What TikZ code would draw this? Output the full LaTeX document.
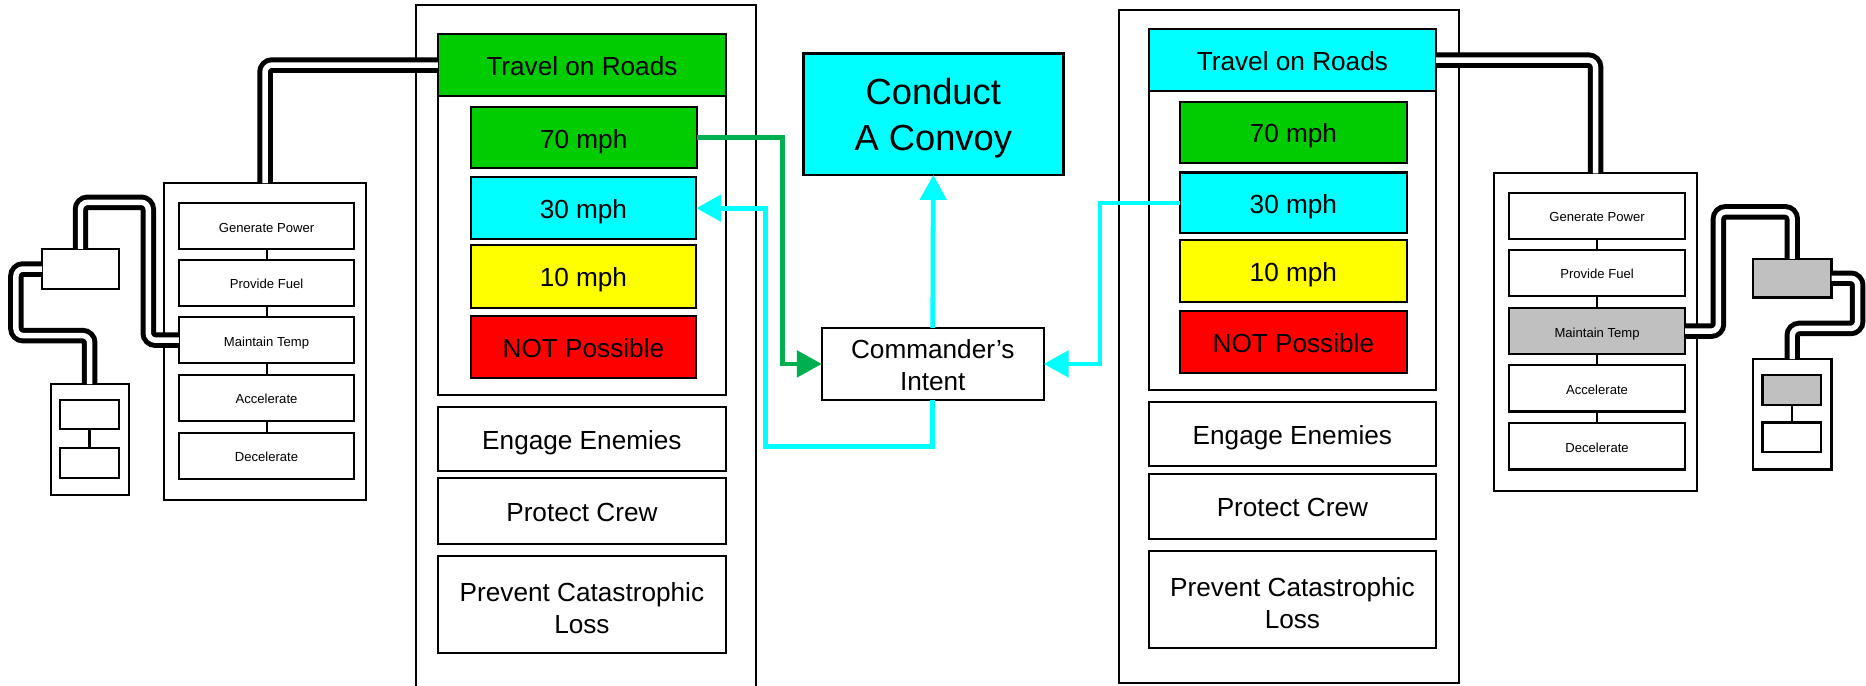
\documentclass[tikz,border=0pt]{standalone}
\usepackage{fontspec}
\setmainfont{Liberation Sans}
\usetikzlibrary{arrows.meta}
\definecolor{boxgreen}{HTML}{00CC00}
\definecolor{linegreen}{HTML}{00B050}
\definecolor{cyanc}{HTML}{00FFFF}
\definecolor{yelc}{HTML}{FFFF00}
\definecolor{redc}{HTML}{FF0000}
\definecolor{grayc}{HTML}{C0C0C0}
\newcommand\mkbox[7]{\node[#1, minimum width={(#5-#3)*1pt}, minimum height={(#6-#4)*1pt}] (#2) at ({(#3+#5)/2},{(#4+#6)/2}) {#7};}
\begin{document}
\begin{tikzpicture}[x=1pt,y=-1pt,
  box/.style={draw, line width=1.8pt, inner sep=0pt, outer sep=0pt, align=center, font=\fontsize{22}{26.5}\selectfont},
  sbox/.style={box, text height=22pt, text depth=4.4pt},
  funcbox/.style={box, font=\fontsize{11}{13}\selectfont, text height=12pt, text depth=2pt},
  outerframe/.style={draw, line width=1.8pt, inner sep=0pt, outer sep=0pt},
  dbl/.style={draw=black, line width=4.2pt, double=white, double distance=4.6pt, rounded corners=6pt},
  conn/.style={line width=1.7pt},
  garrow/.style={draw=linegreen, line width=4pt, -{Triangle[length=21pt,width=22pt]}},
  carrow/.style={draw=cyanc, line width=4pt, -{Triangle[length=21pt,width=22pt]}}]
\fill[white] (0,0) rectangle (1568,576);
\useasboundingbox (0,0) rectangle (1568,576);

% left column
\mkbox{outerframe}{lframe}{349.5}{4.5}{635.5}{640}{}
\mkbox{box}{lcont}{368}{80.7}{610}{332}{}
\mkbox{sbox,fill=boxgreen}{ltravel}{368}{28.6}{610}{80.7}{Travel on Roads}
\mkbox{sbox,fill=boxgreen}{l70}{395.5}{90}{585.5}{141.4}{70 mph}
\mkbox{sbox,fill=cyanc}{l30}{395.5}{149}{585}{200.8}{30 mph}
\mkbox{sbox,fill=yelc}{l10}{395.5}{206}{585}{258.6}{10 mph}
\mkbox{sbox,fill=redc}{lnot}{395.5}{265.3}{585}{317.4}{NOT Possible}
\mkbox{sbox}{leng}{368}{341.7}{610}{395.6}{Engage Enemies}
\mkbox{sbox}{lprot}{368}{402}{610}{457}{Protect Crew}
\mkbox{box,text height=48.5pt}{lprev}{368}{467}{610}{549}{Prevent Catastrophic\\Loss}

% right column
\mkbox{outerframe}{rframe}{940.6}{8.4}{1226}{574}{}
\mkbox{box}{rcont}{965.5}{76.5}{1206.5}{327.7}{}
\mkbox{sbox,fill=cyanc}{rtravel}{965.5}{24.6}{1206.5}{76.5}{Travel on Roads}
\mkbox{sbox,fill=boxgreen}{r70}{991.6}{85.5}{1182}{137}{70 mph}
\mkbox{sbox,fill=cyanc}{r30}{991.6}{145}{1182}{196}{30 mph}
\mkbox{sbox,fill=yelc}{r10}{991.6}{202}{1182}{254}{10 mph}
\mkbox{sbox,fill=redc}{rnot}{991.6}{261.4}{1182}{313.2}{NOT Possible}
\mkbox{sbox}{reng}{965.5}{337.7}{1206.5}{391.6}{Engage Enemies}
\mkbox{sbox}{rprot}{965.5}{398}{1206.5}{453}{Protect Crew}
\mkbox{box,text height=48.5pt}{rprev}{965.5}{463}{1206.5}{544.5}{Prevent Catastrophic\\Loss}

% centre
\mkbox{box,fill=cyanc,font=\fontsize{30.5}{39}\selectfont,line width=2.2pt,text height=68pt}{cc}{675}{45}{893.5}{147}{Conduct\\A Convoy}
\mkbox{box,fill=white,text height=44.5pt}{ci}{690.6}{275.6}{877}{336}{Commander’s\\Intent}

% left functions
\mkbox{outerframe}{lf}{137.8}{153.8}{307.6}{420.2}{}
\mkbox{funcbox}{lgp}{150.4}{170.9}{297.5}{209.5}{Generate Power}
\mkbox{funcbox}{lpf}{150.4}{218.5}{297.5}{257}{Provide Fuel}
\mkbox{funcbox}{lmt}{150.4}{266.4}{297.5}{305.3}{Maintain Temp}
\mkbox{funcbox}{lac}{150.4}{315}{297.5}{353.8}{Accelerate}
\mkbox{funcbox}{lde}{150.4}{363.7}{297.5}{402.4}{Decelerate}
\mkbox{box}{lsb}{35.3}{209.2}{100}{242.9}{}
\mkbox{box}{lbf}{42.6}{322.7}{108.1}{416}{}
\mkbox{box}{lbt}{50.4}{336.1}{100}{360.8}{}
\mkbox{box}{lbb}{50.4}{376.2}{100}{401.4}{}

% right functions
\mkbox{outerframe}{rf}{1255.5}{145.6}{1426}{412.6}{}
\mkbox{funcbox}{rgp}{1268}{162.2}{1416}{200.8}{Generate Power}
\mkbox{funcbox}{rpf}{1268}{210}{1416}{248.7}{Provide Fuel}
\mkbox{funcbox,fill=grayc}{rmt}{1268}{259}{1416}{297.5}{Maintain Temp}
\mkbox{funcbox}{rac}{1268}{306.7}{1416}{345.8}{Accelerate}
\mkbox{funcbox}{rde}{1268}{355.5}{1416}{394.5}{Decelerate}
\mkbox{box,fill=grayc}{rsb}{1473}{217.6}{1539}{250}{}
\mkbox{box}{rbf}{1473}{301.7}{1539}{394.5}{}
\mkbox{box,fill=grayc}{rbt}{1481}{315}{1530}{340}{}
\mkbox{box}{rbb}{1481}{355}{1530}{380}{}

% thin links
\draw[conn] (lgp.south) -- (lpf.north);
\draw[conn] (lpf.south) -- (lmt.north);
\draw[conn] (lmt.south) -- (lac.north);
\draw[conn] (lac.south) -- (lde.north);
\draw[conn] (lbt.south) -- (lbb.north);
\draw[conn] (rgp.south) -- (rpf.north);
\draw[conn] (rpf.south) -- (rmt.north);
\draw[conn] (rmt.south) -- (rac.north);
\draw[conn] (rac.south) -- (rde.north);
\draw[conn] (rbt.south) -- (rbb.north);

% double connectors
\draw[dbl] (ltravel.west) -| (lf.north);
\draw[dbl] (lmt.west) -| (124.6,170) -| (lsb.north);
\draw[dbl] (lsb.west) -| (13.4,282) -| (lbf.north);
\draw[dbl] (rtravel.east) -| (rf.north);
\draw[dbl] (rmt.east) -| (1444,178) -| (rsb.north);
\draw[dbl] (rsb.east) -| (1561,276) -| (rbf.north);

% coloured arrows
\draw[garrow] (l70.east) -- ++(72,0) |- (ci.west);
\draw[carrow] (ci.south) |- (643,375.5) |- (l30.east);
\draw[carrow] (ci.north) -- (cc.south);
\draw[carrow] (r30.west) -- ++(-67.2,0) |- (ci.east);
\end{tikzpicture}
\end{document}
